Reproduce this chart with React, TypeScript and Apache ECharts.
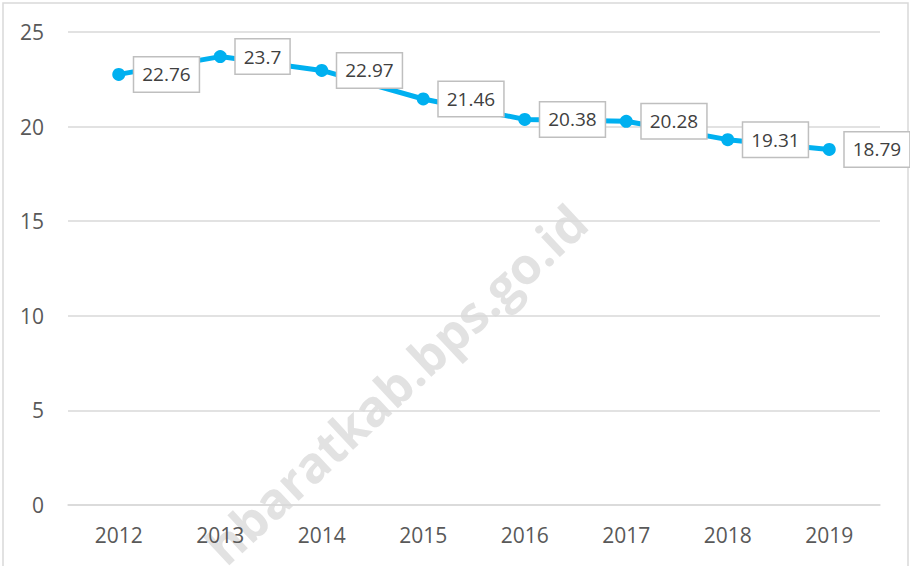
import React, { useEffect, useRef } from "react";
import * as echarts from "echarts";

const years = ["2012", "2013", "2014", "2015", "2016", "2017", "2018", "2019"];
const values = [22.76, 23.7, 22.97, 21.46, 20.38, 20.28, 19.31, 18.79];
const yTicks = { min: 0, max: 25, interval: 5 };
const watermarkText = "hbaratkab.bps.go.id";

export default function App() {
  const ref = useRef<HTMLDivElement>(null);
  useEffect(() => {
    document.body.style.margin = "0";
    if (!ref.current) return;
    const chart = echarts.init(ref.current, undefined, { renderer: "svg" });
    const font = "'Open Sans', 'Noto Sans', sans-serif";
    chart.setOption({
      animation: false,
      backgroundColor: "#ffffff",
      grid: { left: 68, right: 30, top: 32, bottom: 61 },
      graphic: [
        {
          type: "rect",
          z: -10,
          shape: { x: 3, y: 3, width: 905, height: 580 },
          style: { fill: "none", stroke: "#d9d9d9", lineWidth: 1.5 },
        },
        {
          type: "text",
          z: -5,
          x: 396,
          y: 384,
          rotation: (43 * Math.PI) / 180,
          style: {
            text: watermarkText,
            fontFamily: font,
            fontWeight: "bold",
            fontSize: 50,
            fill: "#e2e2e2",
            textAlign: "center",
            textVerticalAlign: "middle",
          },
        },
      ],
      xAxis: {
        type: "category",
        data: years,
        boundaryGap: true,
        axisLine: { show: true, lineStyle: { color: "#d9d9d9", width: 1.5 } },
        axisTick: { show: false },
        axisLabel: { color: "#595959", fontSize: 21, fontFamily: font, margin: 19 },
        splitLine: { show: false },
      },
      yAxis: {
        type: "value",
        min: yTicks.min,
        max: yTicks.max,
        interval: yTicks.interval,
        axisLine: { show: false },
        axisTick: { show: false },
        axisLabel: { color: "#595959", fontSize: 21, fontFamily: font, margin: 24 },
        splitLine: { lineStyle: { color: "#d9d9d9", width: 1.5 } },
      },
      series: [
        {
          type: "line",
          data: values,
          symbol: "circle",
          symbolSize: 13,
          lineStyle: { color: "#00b0f0", width: 5 },
          itemStyle: { color: "#00b0f0" },
          label: {
            show: true,
            position: "right",
            distance: 9,
            color: "#404040",
            fontSize: 19,
            fontFamily: font,
            backgroundColor: "#ffffff",
            borderColor: "#bfbfbf",
            borderWidth: 1.5,
            padding: [8, 8, 7, 8],
          },
        },
      ],
    });
    return () => chart.dispose();
  }, []);
  return <div ref={ref} style={{ width: 910, height: 566 }} />;
}
